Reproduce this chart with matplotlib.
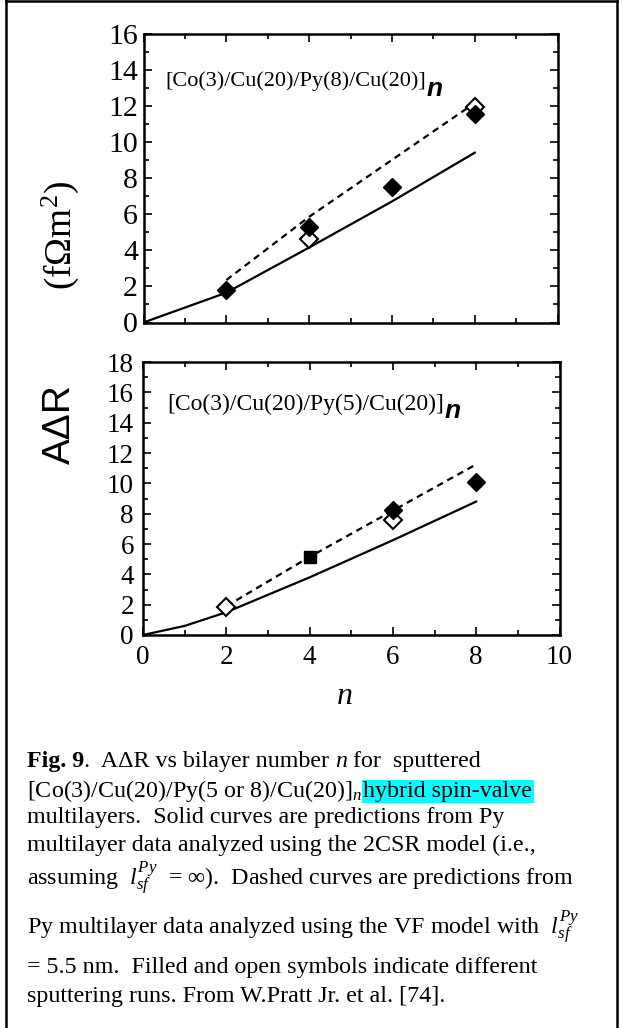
import matplotlib
matplotlib.use("Agg")
import matplotlib.pyplot as plt
from matplotlib.ticker import MultipleLocator
from matplotlib.lines import Line2D

plt.rcParams['font.family'] = ['Liberation Serif', 'DejaVu Serif']
plt.rcParams['mathtext.fontset'] = 'custom'
plt.rcParams['mathtext.rm'] = 'Liberation Serif'
plt.rcParams['mathtext.it'] = 'Liberation Serif:italic'
plt.rcParams['mathtext.bf'] = 'Liberation Serif:bold'

# ---------------- data ----------------
top_curve_n = [0, 2, 4, 6, 8]
top_solid = [0.0, 1.65, 4.15, 6.7, 9.4]
top_dash_n = [2, 4, 6, 8]
top_dash = [2.35, 5.85, 9.0, 12.15]
top_filled_n = [2, 4, 6, 8]
top_filled = [1.8, 5.3, 7.5, 11.55]
top_open_n = [4, 8]
top_open = [4.6, 11.95]

bot_curve_n = [0, 1, 2, 4, 6, 8]
bot_solid = [0.0, 0.6, 1.5, 3.8, 6.25, 8.8]
bot_dash_n = [2, 4, 6, 8]
bot_dash = [1.9, 5.15, 8.2, 11.25]
bot_filled_n = [6, 8]
bot_filled = [8.25, 10.1]
bot_square_n = [4]
bot_square = [5.15]
bot_open_n = [2, 6]
bot_open = [1.85, 7.6]

top_yticks = list(range(0, 17, 2))
bot_yticks = list(range(0, 19, 2))
xticks = list(range(0, 11, 2))

top_label = "[Co(3)/Cu(20)/Py(8)/Cu(20)]"
bot_label = "[Co(3)/Cu(20)/Py(5)/Cu(20)]"

W, H = 622, 1028
fig = plt.figure(figsize=(W / 100, H / 100), dpi=100)


def fx(px):
    return px / W


def fy(py):
    return 1 - py / H


def style_axes(ax, yticks, ylim, fs, ypad):
    ax.set_xlim(0, 10)
    ax.set_ylim(*ylim)
    ax.set_xticks(xticks)
    ax.set_yticks(yticks)
    ax.xaxis.set_minor_locator(MultipleLocator(1))
    ax.yaxis.set_minor_locator(MultipleLocator(1))
    ax.tick_params(which='both', direction='in', top=True, right=True,
                   width=1.2, color='black')
    ax.tick_params(which='major', length=6)
    ax.tick_params(which='minor', length=3.5)
    ax.tick_params(axis='y', labelsize=fs, pad=ypad)
    ax.tick_params(axis='x', labelsize=fs, pad=7)
    for s in ax.spines.values():
        s.set_linewidth(1.8)


ax1 = fig.add_axes([fx(143.5), fy(322.5), fx(557.5 - 143.5), (322.5 - 33.5) / H])
ax2 = fig.add_axes([fx(143.0), fy(635), fx(559.5 - 143.0), (635 - 362) / H])

style_axes(ax1, top_yticks, (0, 16), 21.5, 4)
style_axes(ax2, bot_yticks, (0, 18), 19.5, 6.5)
ax1.tick_params(axis='x', labelbottom=False)

ms = 9
# top panel
ax1.plot(top_curve_n, top_solid, '-', color='black', lw=1.6)
ax1.plot(top_dash_n, top_dash, '--', color='black', lw=1.6, dashes=(3, 2.2))
ax1.plot(top_open_n, top_open, 'D', ms=ms, mfc='white', mec='black', mew=1.5, ls='none')
ax1.plot(top_filled_n, top_filled, 'D', ms=ms, mfc='black', mec='black', ls='none')

# bottom panel
ax2.plot(bot_curve_n, bot_solid, '-', color='black', lw=1.6)
ax2.plot(bot_dash_n, bot_dash, '--', color='black', lw=1.6, dashes=(3, 2.2))
ax2.plot(bot_open_n, bot_open, 'D', ms=ms, mfc='white', mec='black', mew=1.5, ls='none')
ax2.plot(bot_filled_n, bot_filled, 'D', ms=ms, mfc='black', mec='black', ls='none')
ax2.plot(bot_square_n, bot_square, 's', ms=8, mfc='black', mec='black', ls='none')

# axis labels
fig.text(fx(60), fy(235), "(fΩm$^{2}$)", rotation=90, ha='center', va='center',
         fontsize=27)
fig.text(fx(60), fy(424), "AΔR", rotation=90, ha='center', va='center',
         fontsize=28, family=['Liberation Sans', 'DejaVu Sans'])
fig.text(fx(345), fy(697), "n", ha='center', va='center', fontsize=23, style='italic')

renderer = fig.canvas.get_renderer()


def label_with_n(x0, ybase, text, fs, nbase):
    t = fig.text(fx(x0), fy(ybase), text, ha='left', va='baseline', fontsize=fs)
    bb = t.get_window_extent(renderer)
    fig.text(bb.x1 / W + fx(1), fy(nbase), "n", ha='left', va='baseline', fontsize=19,
             weight='bold', style='italic', family=['Liberation Sans', 'DejaVu Sans'])


label_with_n(165, 86, top_label, 16, 96)
label_with_n(167, 410, bot_label, 17, 418)

# caption
cfs = 17.3
x0 = 27


def chain(x_px, y_px, pieces):
    """Place text pieces one after another on one baseline."""
    x = fx(x_px)
    for txt, kw in pieces:
        t = fig.text(x, fy(y_px), txt, ha='left', va='baseline', fontsize=cfs, **kw)
        bb = t.get_window_extent(renderer)
        x = bb.x1 / W
    return x


chain(x0, 767, [("Fig. 9", dict(weight='bold')),
                (".  AΔR vs bilayer number ", {}),
                ("n", dict(style='italic')),
                (" for  sputtered", {})])
chain(x0, 797, [("[Co(3)/Cu(20)/Py(5 or 8)/Cu(20)]$_{n}$ ", {}),
                ("hybrid spin-valve",
                 dict(bbox=dict(facecolor='#00ffff', edgecolor='none', pad=1.0)))])
fig.text(fx(x0), fy(823), "multilayers.  Solid curves are predictions from Py",
         ha='left', va='baseline', fontsize=cfs)
fig.text(fx(x0), fy(851), "multilayer data analyzed using the 2CSR model (i.e.,",
         ha='left', va='baseline', fontsize=cfs)
fig.text(fx(x0), fy(885),
         r"assuming  $l_{sf}^{Py}$  = $\infty$).  Dashed curves are predictions from",
         ha='left', va='baseline', fontsize=cfs)
fig.text(fx(x0), fy(934),
         r"Py multilayer data analyzed using the VF model with  $l_{sf}^{Py}$",
         ha='left', va='baseline', fontsize=cfs)
fig.text(fx(x0), fy(973), "= 5.5 nm.  Filled and open symbols indicate different",
         ha='left', va='baseline', fontsize=cfs)
fig.text(fx(x0), fy(1002), "sputtering runs. From W.Pratt Jr. et al. [74].",
         ha='left', va='baseline', fontsize=cfs)

# frame lines
fig.add_artist(Line2D([fx(6), fx(6)], [0, 1], color='black', lw=1.8,
                      transform=fig.transFigure))
fig.add_artist(Line2D([fx(6), fx(617)], [fy(1), fy(1)], color='black', lw=1.8,
                      transform=fig.transFigure))
fig.add_artist(Line2D([fx(617), fx(617)], [0, fy(1)], color='black', lw=1.8,
                      transform=fig.transFigure))

fig.savefig("out.png", dpi=100)
